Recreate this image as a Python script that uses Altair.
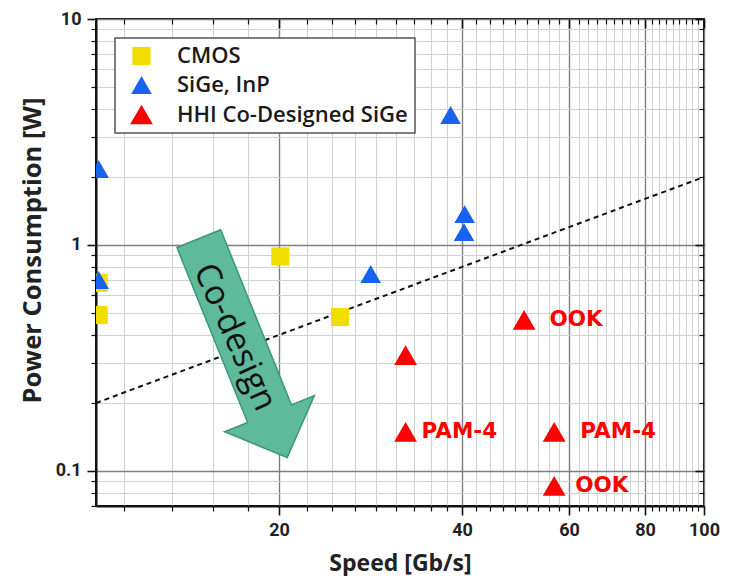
import altair as alt
import pandas as pd

# ---------------- data ----------------
series = ["CMOS", "SiGe, InP", "HHI Co-Designed SiGe"]
series_colors = ["#f0de00", "#1763ef", "#ff0000"]
series_shapes = ["square", "triangle-up", "triangle-up"]
series_sizes = [330, 520, 520]

cmos_speed = [10.1, 10.1, 20.1, 25.2]
cmos_power = [0.49, 0.68, 0.89, 0.48]

sige_speed = [10.1, 10.1, 28.3, 38.3, 40.4, 40.3]
sige_power = [2.17, 0.70, 0.744, 3.76, 1.37, 1.14]

hhi_speed = [50.6, 32.3, 32.3, 56.7, 56.7]
hhi_power = [0.466, 0.326, 0.149, 0.149, 0.0859]

mod_labels = ["OOK", "PAM-4", "PAM-4", "OOK"]
mod_label_speed = [55.7, 34.3, 62.6, 61.4]
mod_label_power = [0.466, 0.149, 0.149, 0.0859]

trend_speed = [10, 100]
trend_power = [0.2, 2.0]

arrow_speed = [17.45]
arrow_power = [0.35]
arrow_text = ["Co-design"]
arrow_text_speed = [16.9]
arrow_text_power = [0.39]

x_domain = [10, 100]
y_domain = [0.07, 10]
x_major = [20, 40, 60, 80, 100]
x_minor = [round(20 * k / 9, 3) for k in range(5, 46) if k % 9 != 0]
y_major = [0.1, 1, 10]
y_minor = [round(m * d, 3) for d in (0.01, 0.1, 1) for m in range(2, 10) if m * d >= 0.069]

# ---------------- tables ----------------
pts = pd.concat([
    pd.DataFrame({"speed": cmos_speed, "power": cmos_power, "series": series[0]}),
    pd.DataFrame({"speed": sige_speed, "power": sige_power, "series": series[1]}),
    pd.DataFrame({"speed": hhi_speed, "power": hhi_power, "series": series[2]}),
], ignore_index=True)
labels_df = pd.DataFrame({"speed": mod_label_speed, "power": mod_label_power, "text": mod_labels})
trend_df = pd.DataFrame({"speed": trend_speed, "power": trend_power})
arrow_df = pd.DataFrame({"speed": arrow_speed, "power": arrow_power})
arrow_text_df = pd.DataFrame({"speed": arrow_text_speed, "power": arrow_text_power, "text": arrow_text})

W, H = 608, 487
xs = alt.Scale(type="log", domain=x_domain, nice=False, zero=False)
ys = alt.Scale(type="log", domain=y_domain, nice=False, zero=False)

X_MAJOR = "datum.value % 20 === 0"
Y_MAJOR = "datum.value == 0.1 || datum.value == 1 || datum.value == 10"
FONT = "Open Sans"
TICK_FONT = "Roboto"

x_axis_main = alt.Axis(
    values=x_major + x_minor,
    labelExpr=f"{X_MAJOR} ? format(datum.value, 'd') : ''",
    grid=True,
    gridColor={"condition": {"test": X_MAJOR, "value": "#7f7f7f"}, "value": "#d2d2d2"},
    gridWidth={"condition": {"test": X_MAJOR, "value": 1.4}, "value": 1},
    tickSize={"condition": {"test": X_MAJOR, "value": 9}, "value": 5},
    tickWidth={"condition": {"test": X_MAJOR, "value": 1.6}, "value": 1.2},
    tickColor="#111", domainColor="#111", domainWidth=2,
    labelFont=TICK_FONT, labelFontSize=18, labelFontWeight="bold", labelColor="#222",
    labelPadding=6, labelFlush=False, labelOverlap=False,
    title="Speed [Gb/s]", titleFont=FONT, titleFontSize=23, titleFontWeight="bold",
    titleColor="#222", titleX=304, titleY=57, titleBaseline="middle",
)
y_axis_main = alt.Axis(
    values=y_major + y_minor,
    labelExpr=f"{Y_MAJOR} ? datum.value : ''",
    grid=True,
    gridColor={"condition": {"test": Y_MAJOR, "value": "#7f7f7f"}, "value": "#d2d2d2"},
    gridWidth={"condition": {"test": Y_MAJOR, "value": 1.4}, "value": 1},
    tickSize={"condition": {"test": Y_MAJOR, "value": 9}, "value": 5},
    tickWidth={"condition": {"test": Y_MAJOR, "value": 1.6}, "value": 1.2},
    tickColor="#111", domainColor="#111", domainWidth=2,
    labelFont=TICK_FONT, labelFontSize=18, labelFontWeight="bold", labelColor="#222",
    labelPadding=6, labelFlush=False, labelOverlap=False,
    title="Power Consumption [W]", titleFont=FONT, titleFontSize=25.5, titleFontWeight="bold",
    titleColor="#222", titleX=-64, titleY=231, titleBaseline="middle", titleAngle=270,
)
x_axis_top = alt.Axis(
    orient="bottom", offset=-H, values=x_major + x_minor, labels=False, grid=False,
    domain=False, title=None,
    tickSize={"condition": {"test": X_MAJOR, "value": 9}, "value": 5},
    tickWidth={"condition": {"test": X_MAJOR, "value": 1.6}, "value": 1.2},
    tickColor="#111",
)
y_axis_right = alt.Axis(
    orient="left", offset=-W, values=y_major + y_minor, labels=False, grid=False,
    domain=False, title=None,
    tickSize={"condition": {"test": Y_MAJOR, "value": 9}, "value": 5},
    tickWidth={"condition": {"test": Y_MAJOR, "value": 1.6}, "value": 1.2},
    tickColor="#111",
)

base_axes = alt.Chart(trend_df).mark_point(opacity=0).encode(
    x=alt.X("speed:Q", scale=xs, axis=x_axis_main),
    y=alt.Y("power:Q", scale=ys, axis=y_axis_main),
)
mirror_axes = alt.Chart(trend_df).mark_point(opacity=0).encode(
    x=alt.X("speed:Q", scale=xs, axis=x_axis_top),
    y=alt.Y("power:Q", scale=ys, axis=y_axis_right),
)

def xy():
    return dict(
        x=alt.X("speed:Q", scale=xs, axis=None),
        y=alt.Y("power:Q", scale=ys, axis=None),
    )

trend = alt.Chart(trend_df).mark_line(
    color="#111", strokeDash=[5, 4], strokeWidth=2, clip=True
).encode(**xy())

legend = alt.Legend(
    orient="none", legendX=19, legendY=19, title=None,
    fillColor="white", strokeColor="#555", padding=7,
    symbolOffset=8, symbolSize=380, symbolStrokeWidth=0,
    labelFont=FONT, labelFontSize=22, labelFontWeight=600, labelColor="#1a1a1a",
    labelOffset=24, rowPadding=7, labelLimit=400,
)

points = alt.Chart(pts).mark_point(filled=True, opacity=1, clip=True, strokeWidth=0).encode(
    **xy(),
    color=alt.Color("series:N", scale=alt.Scale(domain=series, range=series_colors),
                    sort=series, legend=legend),
    shape=alt.Shape("series:N", scale=alt.Scale(domain=series, range=series_shapes),
                    sort=series, legend=legend),
    size=alt.Size("series:N", scale=alt.Scale(domain=series, range=series_sizes), legend=None),
)

arrow_path = "M -0.2 -1 L 0.2 -1 L 0.2 0.6 L 0.41 0.6 L 0 1 L -0.41 0.6 L -0.2 0.6 Z"
arrow = alt.Chart(arrow_df).mark_point(
    shape=arrow_path, size=236 * 236, angle=338, filled=True,
    fill="#5fb99b", stroke="#3a987a", strokeWidth=1.5, opacity=1, fillOpacity=1,
).encode(**xy())

arrow_label = alt.Chart(arrow_text_df).mark_text(
    font=FONT, fontSize=34, angle=66, align="center", baseline="middle", color="#111",
).encode(**xy(), text="text:N")

mod_text = alt.Chart(labels_df).mark_text(
    font="DejaVu Sans", fontSize=21.5, fontWeight="bold", align="left", baseline="middle",
    color="#ff0000",
).encode(**xy(), text="text:N")

chart = alt.layer(
    base_axes, mirror_axes, trend, arrow, arrow_label, points, mod_text
).resolve_axis(x="independent", y="independent").properties(
    width=W, height=H,
    padding={"left": 88, "top": 11, "right": 22, "bottom": 70},
    autosize=alt.AutoSizeParams(type="none"),
    background="white",
).configure_view(
    stroke="#111", strokeWidth=2
).configure_legend(
    strokeWidth=1.5, cornerRadius=0,
)

chart.save("out.html", embed_options={"renderer": "svg", "actions": False})
